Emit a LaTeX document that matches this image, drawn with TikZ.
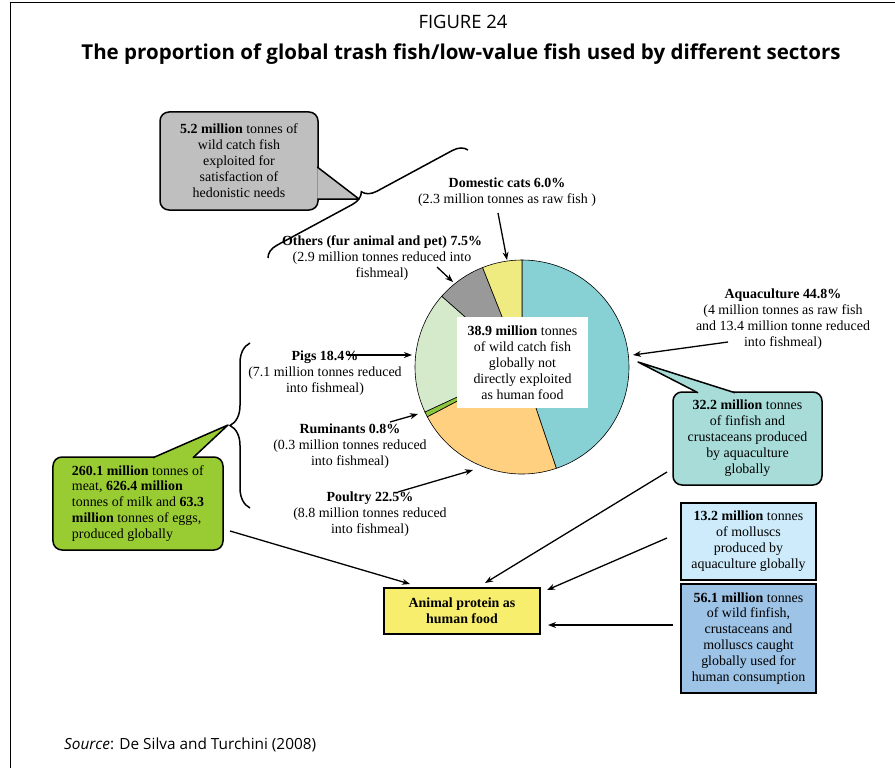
\documentclass[tikz,border=0pt]{standalone}
\usepackage{fontspec}
\setmainfont{Liberation Serif}
\setsansfont{Open Sans}
\usetikzlibrary{arrows.meta,decorations.pathreplacing}
\definecolor{aquac}{HTML}{87D1D4}
\definecolor{poultc}{HTML}{FFD07F}
\definecolor{rumic}{HTML}{8CC63F}
\definecolor{pigsc}{HTML}{D5EACB}
\definecolor{othc}{HTML}{999999}
\definecolor{catsc}{HTML}{F0EB80}
\definecolor{hedonc}{HTML}{BFBFBF}
\definecolor{farmc}{HTML}{99CC33}
\definecolor{aquabox}{HTML}{A8DCD9}
\definecolor{protc}{HTML}{F8EE6E}
\definecolor{molc}{HTML}{CDEBFA}
\definecolor{wildc}{HTML}{9DC3E6}

\begin{document}
\begin{tikzpicture}[x=1bp,y=-1bp,
    >={Stealth[length=8bp,width=6bp]},
    every node/.style={inner sep=0pt,align=center,font=\fontsize{14}{16}\selectfont},
    bubble/.style={draw,line width=1.5bp,rounded corners=9bp},
    panel/.style={draw,line width=2bp},
    ptr/.style={->,line width=1.3bp},
    bracket/.style={decorate,decoration={brace,amplitude=#1},line width=1.5bp}]
\useasboundingbox (0,0) rectangle (895,768);
\draw[line width=1bp] (10,768) -- (10,3) -- (895,3);
% title
\node[font=\sffamily\fontsize{18.5}{22}\selectfont] (fig) at (463,22) {FIGURE 24};
\node[font=\sffamily\bfseries\fontsize{20.6}{24}\selectfont] (title) at (461,54) {The proportion of global trash fish/low-value fish used by different sectors};
% pie
\coordinate (pie) at (522,367);
\draw[fill=aquac,line width=0.6bp] (pie) -- ++(-90:107) arc[start angle=-90,end angle=71.28,radius=107] -- cycle;
\draw[fill=poultc,line width=0.6bp] (pie) -- ++(71.28:107) arc[start angle=71.28,end angle=152.28,radius=107] -- cycle;
\draw[fill=rumic,line width=0.6bp] (pie) -- ++(152.28:107) arc[start angle=152.28,end angle=155.16,radius=107] -- cycle;
\draw[fill=pigsc,line width=0.6bp] (pie) -- ++(155.16:107) arc[start angle=155.16,end angle=221.4,radius=107] -- cycle;
\draw[fill=othc,line width=0.6bp] (pie) -- ++(221.4:107) arc[start angle=221.4,end angle=248.4,radius=107] -- cycle;
\draw[fill=catsc,line width=0.6bp] (pie) -- ++(248.4:107) arc[start angle=248.4,end angle=270,radius=107] -- cycle;
\node[fill=white,minimum width=131bp,minimum height=91bp] (core) at (522.5,362.5) {\textbf{38.9 million} tonnes\\of wild catch fish\\globally not\\directly exploited\\as human food};
% slice labels
\node (cats) at (507,192) {\textbf{Domestic cats 6.0\%}\\(2.3 million tonnes as raw fish )};
\node (others) at (382,258) {\textbf{Others (fur animal and pet) 7.5\%}\\(2.9 million tonnes reduced into\\fishmeal)};
\node (pigs) at (325,373) {\textbf{Pigs 18.4\%}\\(7.1 million tonnes reduced\\into fishmeal)};
\node (rumin) at (350,446) {\textbf{Ruminants 0.8\%}\\(0.3 million tonnes reduced\\into fishmeal)};
\node (poultry) at (370,514) {\textbf{Poultry 22.5\%}\\(8.8 million tonnes reduced\\into fishmeal)};
\node (aqua) at (783,319) {\textbf{Aquaculture 44.8\%}\\(4 million tonnes as raw fish\\and 13.4 million tonne reduced\\into fishmeal)};
\coordinate (catsA) at (498,213); \coordinate (catsB) at (507,260);
\coordinate (othA) at (437,267); \coordinate (othB) at (453,282);
\coordinate (pigsA) at (347,355); \coordinate (pigsB) at (412,355);
\coordinate (ruA) at (390,422); \coordinate (ruB) at (418,414);
\coordinate (poA) at (398,492); \coordinate (poB) at (473,470);
\coordinate (aqA) at (728,342); \coordinate (aqB) at (633,355);
\draw[ptr] (catsA) -- (catsB);
\draw[ptr] (othA) -- (othB);
\draw[ptr] (pigsA) -- (pigsB);
\draw[ptr] (ruA) -- (ruB);
\draw[ptr] (poA) -- (poB);
\draw[ptr] (aqA) -- (aqB);
% callouts
\node[bubble,fill=hedonc,minimum width=158bp,minimum height=98bp] (hedon) at (239,161) {\textbf{5.2 million} tonnes of\\wild catch fish\\exploited for\\satisfaction of\\hedonistic needs};
\coordinate (hedonTip) at (359,199);
\fill[hedonc] (317.25,167) -- (hedonTip) -- (317.25,199) -- cycle;
\draw[line width=1.5bp,line join=round] (317.25,167) -- (hedonTip) -- (317.25,199);
\draw[bracket=14bp] (268,258) -- (468,150);
\node[bubble,fill=farmc,minimum width=170bp,minimum height=93bp,align=left] (farm) at (138,503.5) {\textbf{260.1 million} tonnes of\\meat, \textbf{626.4 million}\\tonnes of milk and \textbf{63.3}\\\textbf{million} tonnes of eggs,\\produced globally};
\coordinate (farmTip) at (228,425);
\fill[farmc] (153,457.75) -- (farmTip) -- (193,457.75) -- cycle;
\draw[line width=1.5bp,line join=round] (153,457.75) -- (farmTip) -- (193,457.75);
\draw[bracket=20bp] (250,508) -- (250,343);
\node[bubble,fill=aquabox,minimum width=149bp,minimum height=93bp] (aquaprod) at (747.5,438.5) {\textbf{32.2 million} tonnes\\of finfish and\\crustaceans produced\\by aquaculture\\globally};
\coordinate (aquaTip) at (638,362);
\fill[aquabox] (698,392.75) -- (aquaTip) -- (735,392.75) -- cycle;
\draw[line width=1.5bp,line join=round] (698,392.75) -- (aquaTip) -- (735,392.75);
% boxes
\node[panel,fill=molc,minimum width=135bp,minimum height=77bp] (mollusc) at (748.5,541.5) {\textbf{13.2 million} tonnes\\of molluscs\\produced by\\aquaculture globally};
\node[panel,fill=wildc,minimum width=135bp,minimum height=109bp] (wild) at (748.5,638.5) {\textbf{56.1 million} tonnes\\of wild finfish,\\crustaceans and\\molluscs caught\\globally used for\\human consumption};
\node[panel,fill=protc,minimum width=156bp,minimum height=46bp,font=\bfseries\fontsize{14}{16}\selectfont] (protein) at (462,611) {Animal protein as\\human food};
\coordinate (farmA) at (230,531); \coordinate (farmB) at (410,584);
\coordinate (aquaA) at (667,472); \coordinate (aquaB) at (485,583);
\coordinate (molA) at (667,538); \coordinate (molB) at (547,590);
\coordinate (wildA) at (673,625); \coordinate (wildB) at (548,625);
\draw[ptr] (farmA) -- (farmB);
\draw[ptr] (aquaA) -- (aquaB);
\draw[ptr] (molA) -- (molB);
\draw[ptr] (wildA) -- (wildB);
% source
\node[anchor=west,font=\sffamily\fontsize{15.4}{18}\selectfont] (src) at (64,745) {\textit{Source}: De Silva and Turchini (2008)};
\end{tikzpicture}
\end{document}
